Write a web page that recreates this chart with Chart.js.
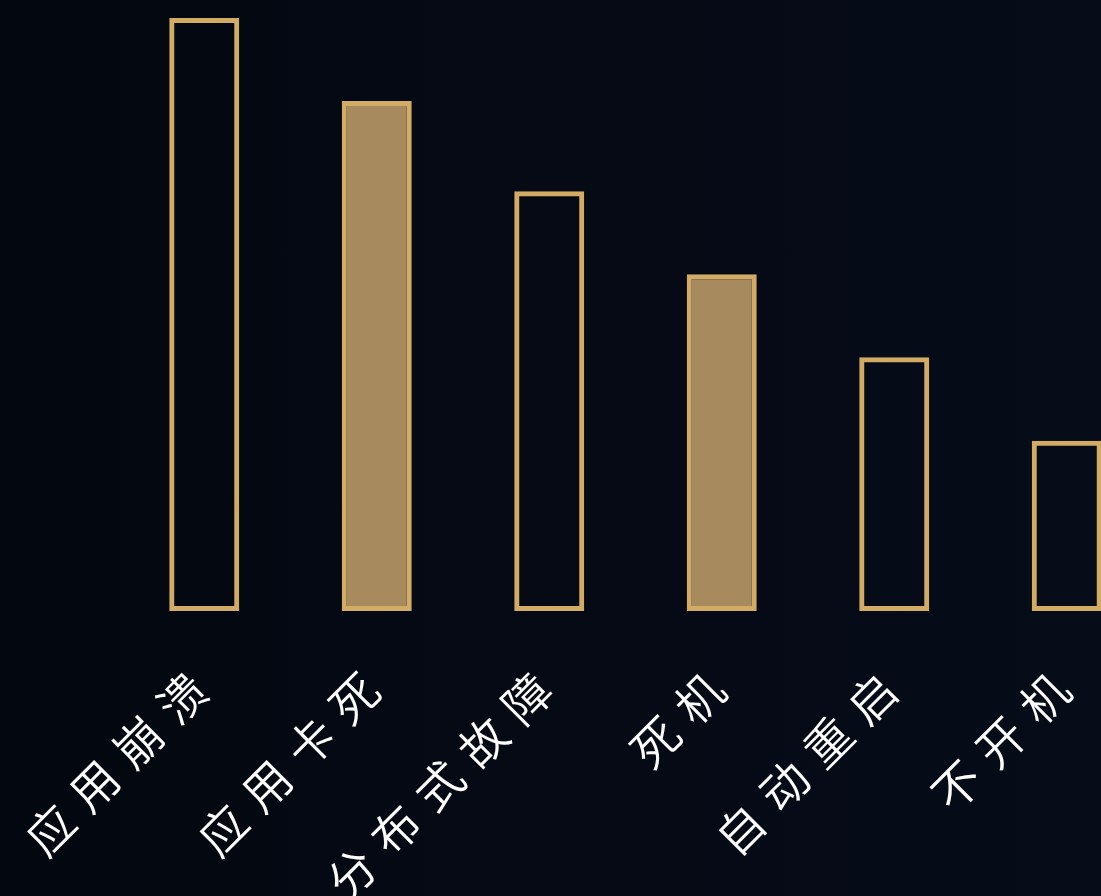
<!DOCTYPE html>
<html>
<head>
<meta charset="utf-8">
<script src="https://cdn.jsdelivr.net/npm/chart.js@4.4.1/dist/chart.umd.min.js"></script>
<style>
  html, body { margin: 0; padding: 0; width: 1101px; height: 896px; overflow: hidden; }
  body { background: linear-gradient(90deg, #03070f 0%, #050a15 50%, #060c18 100%); }
  #wrap { position: relative; width: 1101px; height: 896px; overflow: hidden; }
  canvas { display: block; }
</style>
</head>
<body>
<div id="wrap"><canvas id="c" width="1160" height="896"></canvas></div>
<script>
// Fault categories and their relative frequencies
const categories = ['应用崩溃', '应用卡死', '分布式故障', '死机', '自动重启', '不开机'];
const values = [100, 86.0, 70.8, 56.8, 42.8, 28.7];
// which bars are drawn solid
const solid = [false, true, false, true, false, false];

const GOLD = '#d2ab65';
const GOLD_FILL = '#a78b5e';
const fills = solid.map(s => (s ? GOLD_FILL : 'rgba(0,0,0,0)'));

// wide letter spacing for the axis labels
const spacing = {
  id: 'labelSpacing',
  beforeLayout(chart) { chart.ctx.letterSpacing = '15px'; },
  beforeDraw(chart) { chart.ctx.letterSpacing = '15px'; }
};

new Chart(document.getElementById('c'), {
  type: 'bar',
  data: {
    labels: categories,
    datasets: [{
      data: values,
      backgroundColor: fills,
      borderColor: GOLD,
      borderWidth: 5,
      borderSkipped: false,
      barPercentage: 0.406,
      categoryPercentage: 1
    }]
  },
  options: {
    responsive: false,
    animation: false,
    layout: { padding: { left: 118, right: 7, top: 18, bottom: 0 } },
    plugins: { legend: { display: false }, tooltip: { enabled: false } },
    scales: {
      y: { display: false, min: 0, max: 100 },
      x: {
        grid: { display: false, drawTicks: false },
        border: { display: false },
        ticks: {
          color: '#ffffff',
          autoSkip: false,
          maxRotation: 45,
          minRotation: 45,
          padding: 40,
          labelOffset: 5,
          font: { family: '"Noto Sans CJK SC", "Noto Sans", sans-serif', size: 47, weight: 350 }
        },
        afterFit(scale) {
          scale.height = 285;
          scale.paddingLeft = 0;
          scale.paddingRight = 0;
        }
      }
    }
  },
  plugins: [spacing]
});
</script>
</body>
</html>
